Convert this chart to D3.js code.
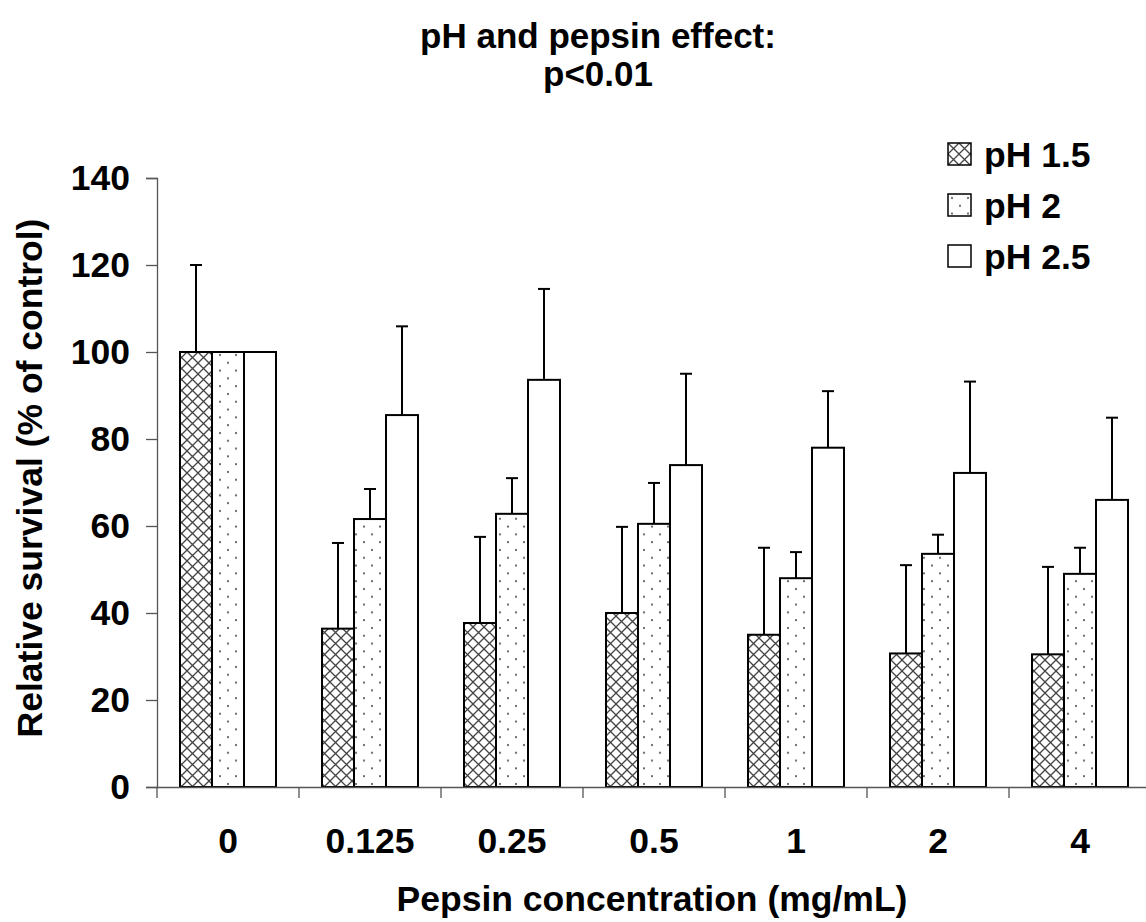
<!DOCTYPE html>
<html><head><meta charset="utf-8">
<script src="https://cdn.jsdelivr.net/npm/d3@7"></script>
<style>
html,body{margin:0;padding:0;background:#fff;}
text{font-family:"Liberation Sans",Arial,sans-serif;font-weight:bold;fill:#000;}
</style></head>
<body>
<svg id="chart" width="1146" height="922"></svg>
<script>
const categories = ["0", "0.125", "0.25", "0.5", "1", "2", "4"];
const seriesNames = ["pH 1.5", "pH 2", "pH 2.5"];
const ph15 = [100, 36.4, 37.7, 40.0, 35.0, 30.7, 30.5];
const ph15Err = [20, 19.7, 19.8, 19.8, 20.0, 20.3, 20.1];
const ph2 = [100, 61.6, 62.8, 60.5, 48.0, 53.6, 49.0];
const ph2Err = [0, 6.9, 8.2, 9.4, 6.0, 4.4, 6.0];
const ph25 = [100, 85.5, 93.6, 74.0, 78.0, 72.2, 66.0];
const ph25Err = [0, 20.4, 20.9, 21.0, 13.0, 21.0, 18.9];
const yTicks = [0, 20, 40, 60, 80, 100, 120, 140];
const titleLines = ["pH and pepsin effect:", "p<0.01"];
const xTitle = "Pepsin concentration (mg/mL)";
const yTitle = "Relative survival (% of control)";

const series = [
  {name: seriesNames[0], values: ph15, err: ph15Err, fill: "url(#cross)"},
  {name: seriesNames[1], values: ph2, err: ph2Err, fill: "url(#dots)"},
  {name: seriesNames[2], values: ph25, err: ph25Err, fill: "#fff"}
];

const svg = d3.select("#chart");
const mLeft = 157, mRight = 1151, mTop = 178, mBottom = 787;

const defs = svg.append("defs");
const cross = defs.append("pattern").attr("id", "cross")
  .attr("patternUnits", "userSpaceOnUse").attr("width", 11).attr("height", 11);
cross.append("rect").attr("width", 11).attr("height", 11).attr("fill", "#fff");
cross.append("path").attr("d", "M0,0L11,11M11,0L0,11M-1,10L1,12M10,-1L12,1")
  .attr("stroke", "#444").attr("stroke-width", 1.3);
const dots = defs.append("pattern").attr("id", "dots")
  .attr("patternUnits", "userSpaceOnUse").attr("width", 16).attr("height", 15.6);
dots.append("rect").attr("width", 16).attr("height", 15.6).attr("fill", "#fff");
dots.append("circle").attr("cx", 4).attr("cy", 4).attr("r", 1.1).attr("fill", "#555");
dots.append("circle").attr("cx", 12).attr("cy", 11.8).attr("r", 1.1).attr("fill", "#555");

const x = d3.scaleBand().domain(categories).range([mLeft, mRight]).paddingInner(0).paddingOuter(0);
const y = d3.scaleLinear().domain([0, 140]).range([mBottom, mTop]);
const xs = d3.scaleBand().domain(seriesNames).range([0, 96]);
const barOffset = (x.bandwidth() - 96) / 2;

// bars
series.forEach(s => {
  const g = svg.append("g");
  g.selectAll("rect").data(categories).join("rect")
    .attr("x", (c) => x(c) + barOffset + xs(s.name))
    .attr("y", (c, i) => y(s.values[i]))
    .attr("width", xs.bandwidth())
    .attr("height", (c, i) => y(0) - y(s.values[i]))
    .attr("fill", s.fill).attr("stroke", "#000").attr("stroke-width", 2);
  categories.forEach((c, i) => {
    if (!s.err[i]) return;
    const cx = x(c) + barOffset + xs(s.name) + xs.bandwidth() / 2;
    const y0 = y(s.values[i]), y1 = y(s.values[i] + s.err[i]);
    g.append("line").attr("x1", cx).attr("x2", cx).attr("y1", y0).attr("y2", y1)
      .attr("stroke", "#000").attr("stroke-width", 2);
    g.append("line").attr("x1", cx - 6).attr("x2", cx + 6).attr("y1", y1).attr("y2", y1)
      .attr("stroke", "#000").attr("stroke-width", 2);
  });
});

// y axis
const yAxis = d3.axisLeft(y).tickValues(yTicks).tickSize(11).tickPadding(16).tickFormat(d3.format("d"));
const gy = svg.append("g").attr("transform", `translate(${mLeft},0)`).call(yAxis);
gy.select(".domain").attr("stroke", "#555").attr("stroke-width", 1.3);
gy.selectAll(".tick line").attr("stroke", "#555").attr("stroke-width", 1.3);
gy.selectAll(".tick text").style("font-size", "35.5px").attr("fill", "#000");

// x axis
const xAxis = d3.axisBottom(x).tickSize(0).tickFormat(() => "");
const gx = svg.append("g").attr("transform", `translate(0,${mBottom})`).call(xAxis);
gx.select(".domain").attr("stroke", "#555").attr("stroke-width", 1.3);
gx.selectAll("line.bd").data(categories).join("line").attr("class", "bd")
  .attr("x1", c => x(c)).attr("x2", c => x(c)).attr("y1", 0).attr("y2", 11)
  .attr("stroke", "#555").attr("stroke-width", 1.3);
gx.selectAll("text.cat").data(categories).join("text").attr("class", "cat")
  .attr("x", c => x(c) + x.bandwidth() / 2).attr("y", 66)
  .attr("text-anchor", "middle").style("font-size", "35.5px").text(c => c);

// titles
svg.append("g").selectAll("text").data(titleLines).join("text")
  .attr("x", 598).attr("y", (d, i) => 48 + i * 38)
  .attr("text-anchor", "middle").style("font-size", "35px").text(d => d);
svg.append("text").attr("x", 652).attr("y", 911)
  .attr("text-anchor", "middle").style("font-size", "35.5px").text(xTitle);
svg.append("text").attr("transform", `translate(42,478) rotate(-90)`)
  .attr("text-anchor", "middle").style("font-size", "35.5px").text(yTitle);

// legend
const lg = svg.append("g").attr("transform", "translate(948,143)");
series.forEach((s, i) => {
  const row = lg.append("g").attr("transform", `translate(0,${i * 51})`);
  row.append("rect").attr("width", 23).attr("height", 22)
    .attr("fill", s.fill).attr("stroke", "#000").attr("stroke-width", 1.5);
  row.append("text").attr("x", 36).attr("y", 24).style("font-size", "35.5px").text(s.name);
});
</script>
</body></html>
